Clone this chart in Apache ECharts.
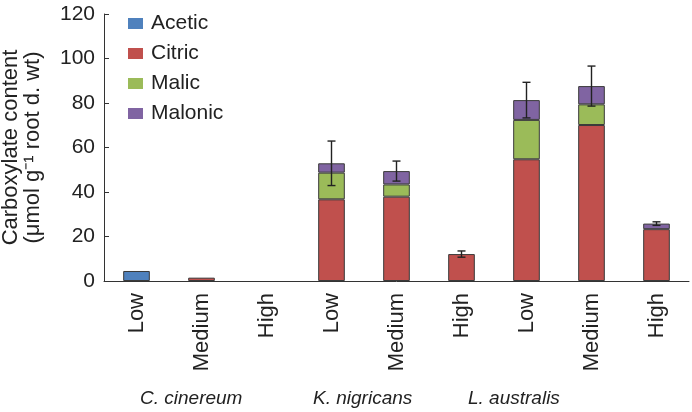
<!DOCTYPE html>
<html><head><meta charset="utf-8">
<script src="https://cdn.jsdelivr.net/npm/echarts@6/dist/echarts.min.js"></script>
<style>html,body{margin:0;padding:0;background:#fff}#c{width:692px;height:412px}</style>
</head><body><div id="c"></div>
<script>
const categories = ['Low','Medium','High','Low','Medium','High','Low','Medium','High'];
const species = ['C. cinereum','K. nigricans','L. australis'];
const acetic  = [4.5, null, null, null, null, null, null, null, null];
const citric  = [null, 1.5, null, 36.7, 37.9, 12.1, 54.7, 70.1, 23.3];
const malic   = [null, null, null, 12.0, 5.5, null, 17.7, 9.3, null];
const malonic = [null, null, null, 4.2, 6.0, null, 8.9, 8.2, 2.5];
const errors  = [0, 0, 0, 10, 4.5, 1.4, 8, 9, 0.8];
const yTicks = [0, 20, 40, 60, 80, 100, 120];

const FONT = 'Liberation Sans, Arial, sans-serif';
const totals = categories.map((_, i) => [acetic, citric, malic, malonic].reduce((s, a) => s + (a[i] || 0), 0));
const errData = categories.map((_, i) => [i, totals[i], errors[i]]).filter(d => d[2] > 0);

const chart = echarts.init(document.getElementById('c'), null, {renderer: 'canvas'});
const barStyle = c => ({color: c, borderColor: '#3a3a3a', borderWidth: 1});
const mk = (name, data, color) => ({
  name, type: 'bar', stack: 'a', data, barWidth: '41%',
  itemStyle: barStyle(color), emphasis: {disabled: true}
});
chart.setOption({
  animation: false,
  textStyle: {fontFamily: FONT},
  grid: {left: 104, right: 3, top: 14, bottom: 131, containLabel: false, outerBoundsMode: 'none'},
  legend: {
    orient: 'vertical', left: 123, top: 8, itemWidth: 15, itemHeight: 11, itemGap: 9,
    icon: 'rect',
    itemStyle: {borderWidth: 0},
    textStyle: {fontSize: 21, lineHeight: 21, color: '#222', fontFamily: FONT, padding: [0, 0, 0, 3]},
    data: ['Acetic', 'Citric', 'Malic', 'Malonic']
  },
  xAxis: {
    type: 'category', data: categories,
    axisLine: {lineStyle: {color: '#333', width: 1}},
    axisTick: {inside: true, length: 5, lineStyle: {color: '#333'}},
    axisLabel: {rotate: 90, fontSize: 22, color: '#222', margin: 12, fontFamily: FONT}
  },
  yAxis: {
    type: 'value', min: 0, max: 120, interval: 20,
    axisLine: {show: true, lineStyle: {color: '#333', width: 1}},
    axisTick: {show: true, inside: true, length: 5, lineStyle: {color: '#333'}},
    splitLine: {show: false},
    axisLabel: {fontSize: 21, color: '#222', margin: 9, fontFamily: FONT,
      formatter: v => yTicks.includes(v) ? String(v) : ''},
    name: 'Carboxylate content\n(μmol g⁻¹ root d. wt)',
    nameLocation: 'middle', nameGap: 60,
    nameTextStyle: {fontSize: 22, color: '#222', lineHeight: 22, fontFamily: FONT}
  },
  series: [
    mk('Acetic', acetic, '#4f81bd'),
    mk('Citric', citric, '#c0504d'),
    mk('Malic', malic, '#9bbb59'),
    mk('Malonic', malonic, '#8064a2'),
    {
      type: 'custom', data: errData, z: 10, silent: true,
      renderItem: (params, api) => {
        const x = api.value(0), t = api.value(1), e = api.value(2);
        const top = api.coord([x, t + e]);
        const bot = api.coord([x, t - e]);
        const hw = 4;
        const st = {stroke: '#222', lineWidth: 1.4};
        return {type: 'group', children: [
          {type: 'line', shape: {x1: top[0], y1: top[1], x2: bot[0], y2: bot[1]}, style: st},
          {type: 'line', shape: {x1: top[0]-hw, y1: top[1], x2: top[0]+hw, y2: top[1]}, style: st},
          {type: 'line', shape: {x1: bot[0]-hw, y1: bot[1], x2: bot[0]+hw, y2: bot[1]}, style: st}
        ]};
      }
    }
  ],
  graphic: [
    {type: 'text', left: 140, top: 389, style: {text: species[0], font: 'italic 19px ' + FONT, fill: '#222'}},
    {type: 'text', left: 313, top: 389, style: {text: species[1], font: 'italic 19px ' + FONT, fill: '#222'}},
    {type: 'text', left: 468, top: 389, style: {text: species[2], font: 'italic 19px ' + FONT, fill: '#222'}}
  ]
});
</script></body></html>
